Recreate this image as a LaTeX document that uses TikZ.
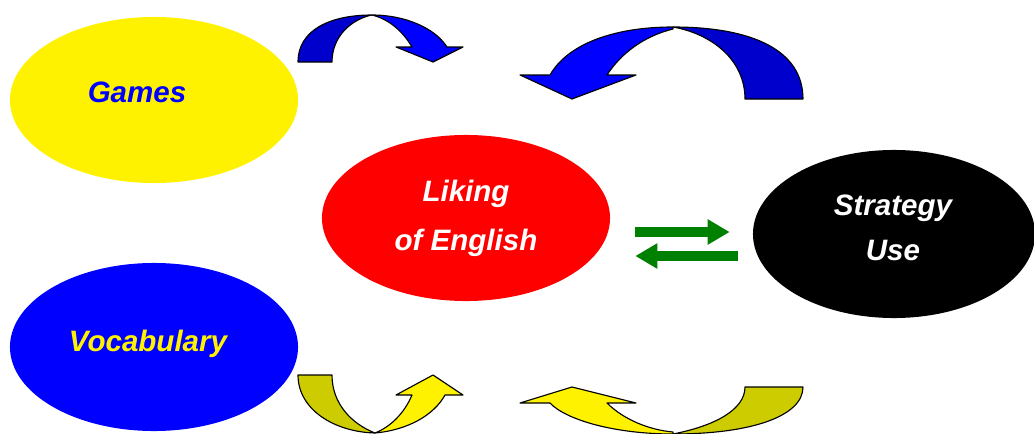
\documentclass[tikz,border=0pt]{standalone}
\usepackage{fontspec}
\setmainfont{Liberation Sans}
\usetikzlibrary{shapes.geometric,arrows.meta}
\definecolor{darkblue}{RGB}{0,0,204}
\definecolor{darkyellow}{RGB}{204,204,0}
\definecolor{arrowgreen}{RGB}{0,128,0}

\begin{document}
\begin{tikzpicture}[
            x=0.025cm,y=-0.025cm,
            blob/.style={ellipse,minimum width=7.2cm,minimum height=4.15cm,inner sep=0pt,align=center},
            word/.style={font=\fontsize{21}{25}\selectfont\bfseries\itshape,align=center},
            flow/.style={draw=arrowgreen,line width=0.25cm,-{Triangle[length=0.55cm,width=0.6cm]}},
            band/.style={draw=black,line width=0.8pt,line join=round}
        ]
        \useasboundingbox (0,0) rectangle (1034,434);
        \node[blob,fill=yellow] (games) at (154,100) {};
        \node[word,text=blue] (gamestext) at (137,92) {Games};
        \node[blob,fill=blue,minimum height=4.2cm] (vocab) at (154,347) {};
        \node[word,text=yellow] (vocabtext) at (148,344) {Vocabulary};
        \node[blob,fill=red,word,text=white] (liking) at (466,218) {Liking\\[10pt]of English};
        \node[blob,fill=black,minimum width=7.05cm,minimum height=4.2cm] (strategy) at (894,234) {};
        \node[word,text=white] (strategytext) at (893,228) {Strategy\\[7pt]Use};
        \draw[flow] ([xshift=0.625cm,yshift=-0.35cm]liking.east) coordinate (r1)
            -- (r1 -| strategy.west) [shorten >=0.575cm];
        \draw[flow] ([xshift=-0.375cm,yshift=-0.55cm]strategy.west) coordinate (l1)
            -- (l1 -| liking.east) [shorten >=0.625cm];
        % top left
        \filldraw[band,fill=darkblue] (298,62) .. controls (298,30) and (330,15) .. (372,15)
            .. controls (352,19) and (332,36) .. (332,62) -- cycle;
        \filldraw[band,fill=blue] (372,15) .. controls (405,15) and (435,28) .. (447,47)
            -- (463,47) -- (433,62) -- (396,47) -- (412,47)
            .. controls (402,30) and (388,19) .. (372,15) -- cycle;
        % top right
        \filldraw[band,fill=darkblue] (803,99) .. controls (803,50) and (752,27) .. (673,27)
            .. controls (712,34) and (745,60) .. (745,99) -- cycle;
        \filldraw[band,fill=blue] (673,27) .. controls (612,27) and (567,45) .. (550,75)
            -- (520,75) -- (572,99) -- (636,75) -- (607,75)
            .. controls (622,52) and (645,36) .. (673,29) -- cycle;
        % bottom left
        \filldraw[band,fill=darkyellow] (298,375) .. controls (298,410) and (335,432) .. (375,433)
            .. controls (352,424) and (332,404) .. (332,375) -- cycle;
        \filldraw[band,fill=yellow] (375,433) .. controls (408,430) and (434,415) .. (445,395)
            -- (463,395) -- (433,375) -- (396,395) -- (412,395)
            .. controls (404,414) and (390,427) .. (375,433) -- cycle;
        % bottom right
        \filldraw[band,fill=darkyellow] (803,387) .. controls (803,416) and (752,434) .. (673,434)
            .. controls (714,426) and (745,410) .. (745,387) -- cycle;
        \filldraw[band,fill=yellow] (673,434) .. controls (615,434) and (566,420) .. (550,403)
            -- (520,403) -- (572,387) -- (636,403) -- (607,403)
            .. controls (624,420) and (650,430) .. (673,432) -- cycle;
\end{tikzpicture}
\end{document}
